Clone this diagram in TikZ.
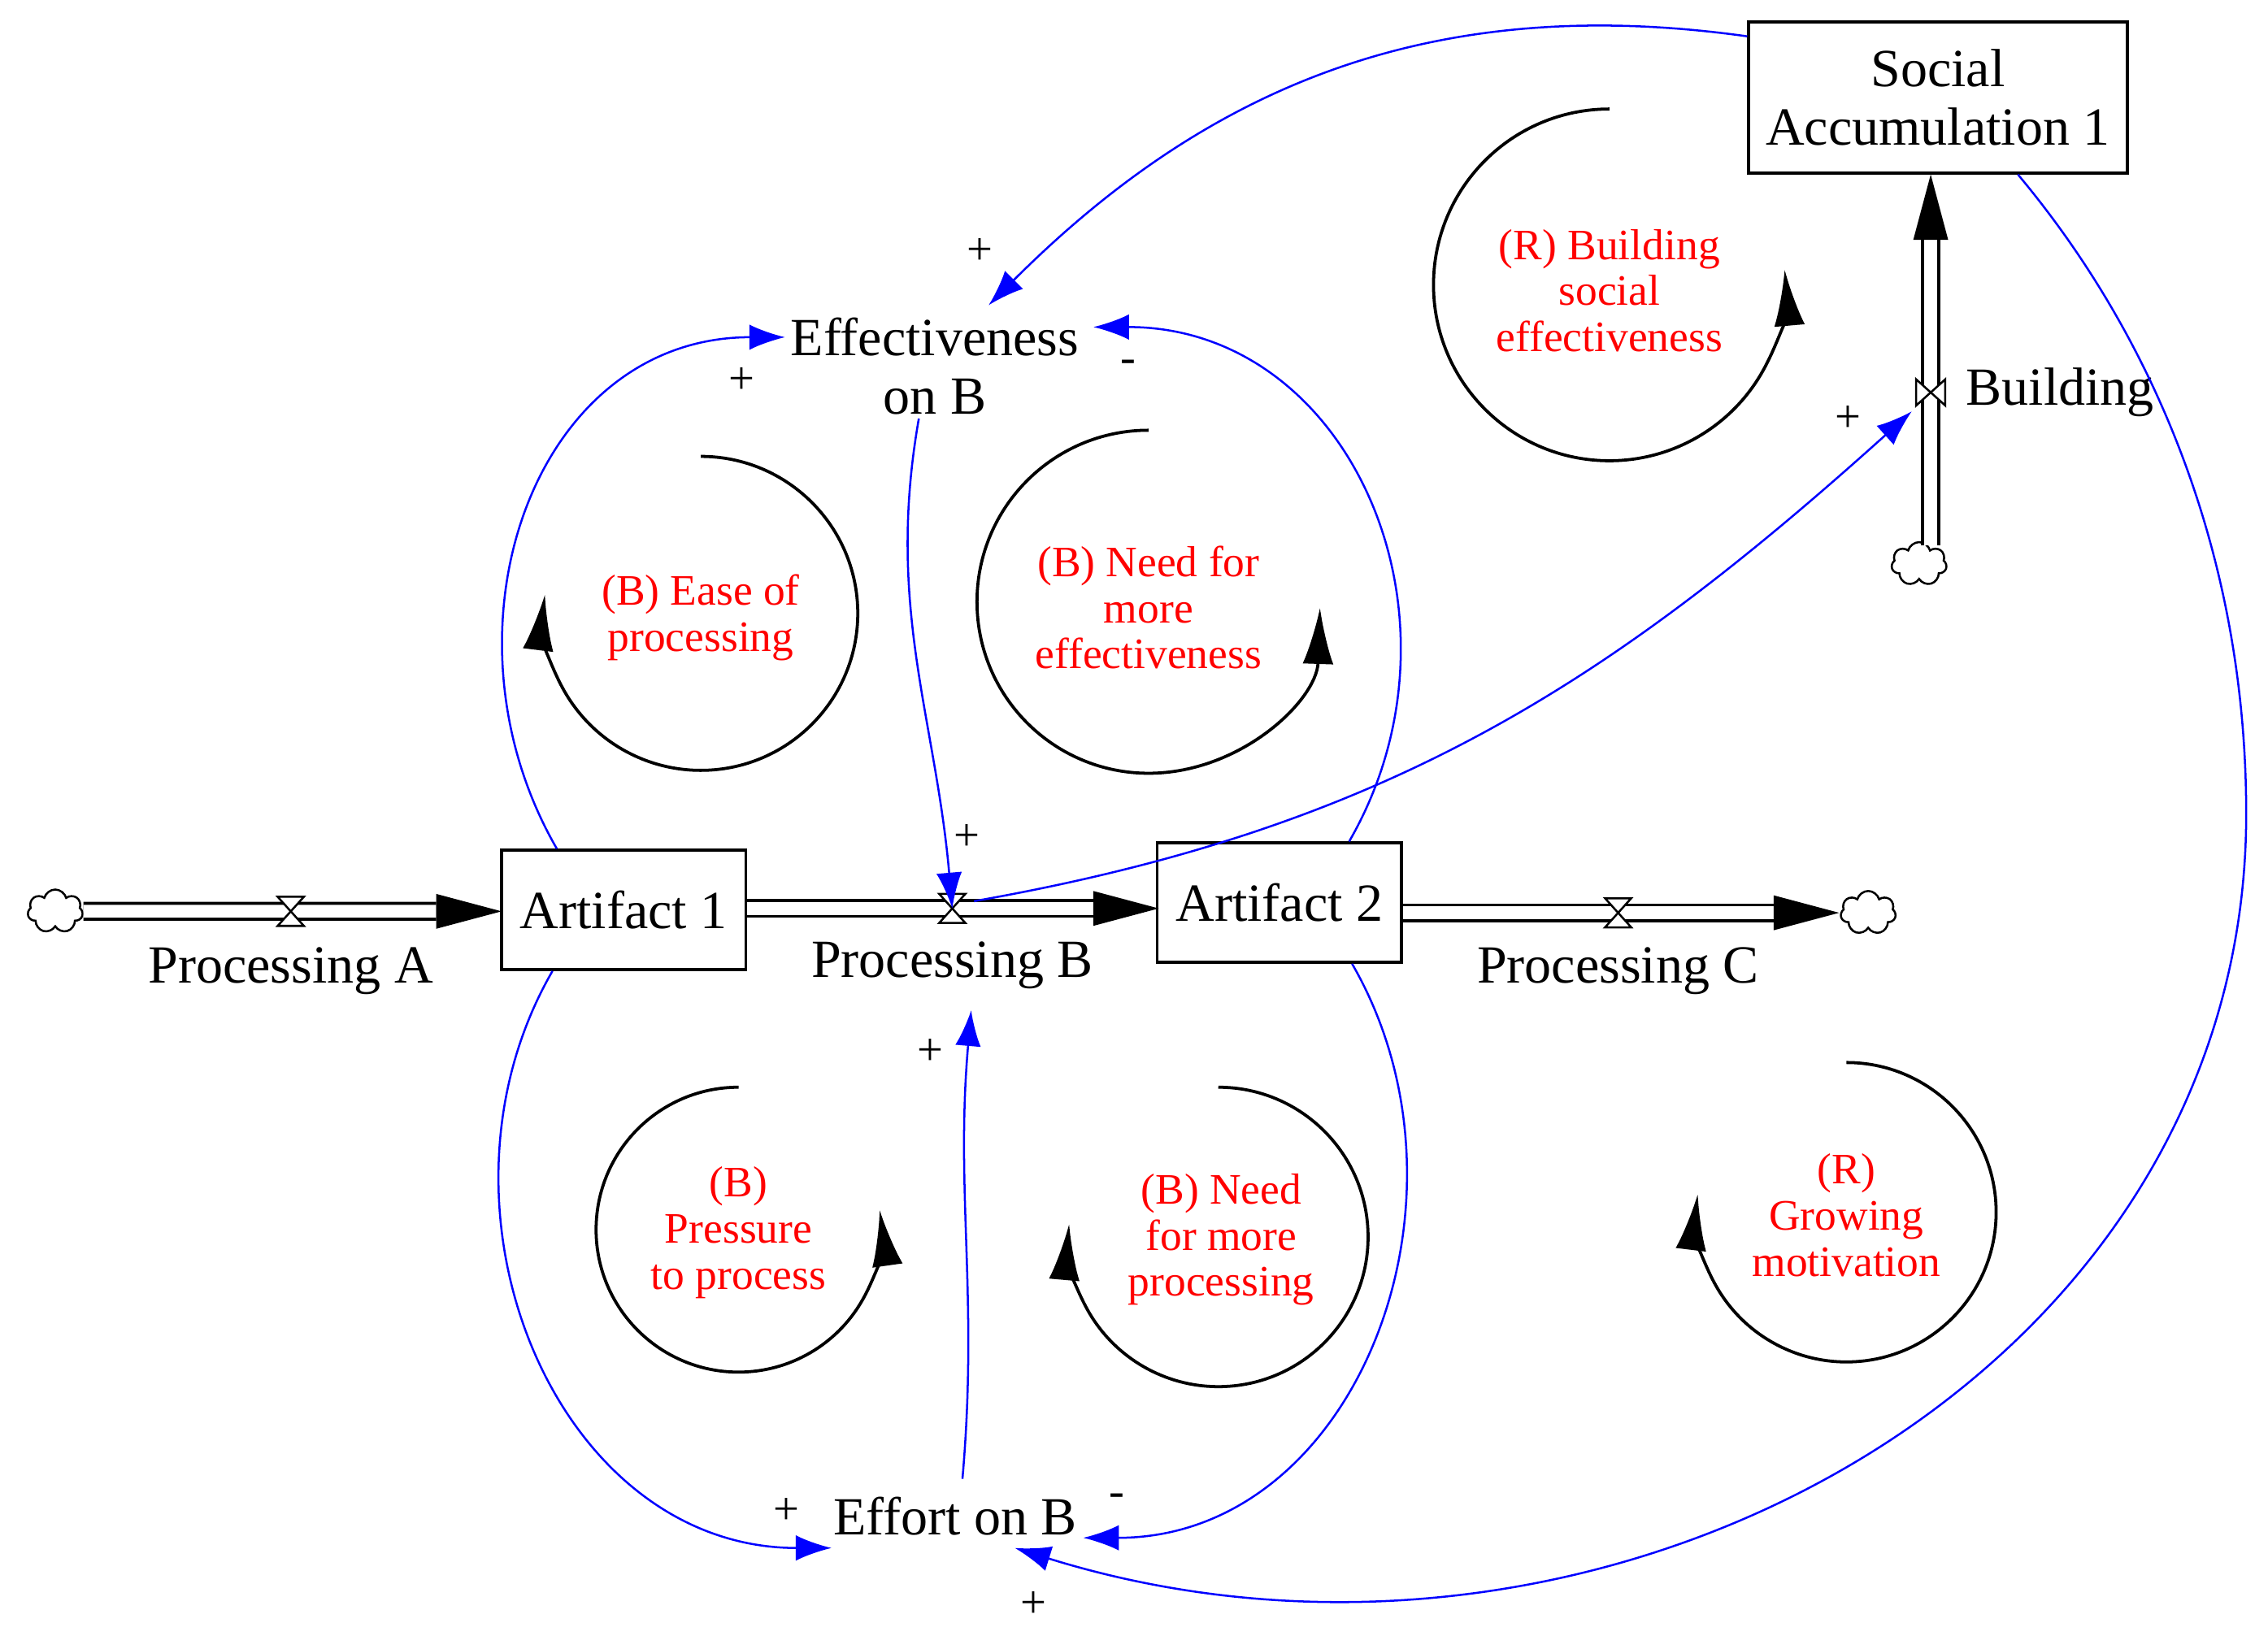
\documentclass[tikz,border=0pt]{standalone}
\usepackage{fontspec}
\setmainfont{Liberation Serif}
\usetikzlibrary{arrows.meta,shapes.symbols}
\tikzset{
	stock/.style={draw, semithick, minimum width=1.68cm, minimum height=0.82cm, font=\fontsize{10.5}{11.5}\selectfont, align=center},
	lbl/.style={font=\fontsize{10.5}{11.5}\selectfont, align=center},
	loopname/.style={text=red, font=\fontsize{8.5}{9}\selectfont, align=center},
	sign/.style={font=\fontsize{9}{9}\selectfont},
	link/.style={blue, -{Latex[length=7pt,width=5pt]}},
	loop/.style={semithick, -{Latex[length=11pt,width=6pt]}},
	cloudy/.style={cloud, draw, cloud puffs=7, minimum width=0.38cm, minimum height=0.3cm, inner sep=0pt},
	pipe/.style={double, double distance=2.5pt, semithick}
}
\newcommand{\valveH}[1]{\draw[fill=white] ($(#1)+(-9,10)$) -- ($(#1)+(9,10)$) -- ($(#1)+(-9,-10)$) -- ($(#1)+(9,-10)$) -- cycle;}
\newcommand{\valveV}[1]{\draw[fill=white] ($(#1)+(-10,9)$) -- ($(#1)+(-10,-9)$) -- ($(#1)+(10,9)$) -- ($(#1)+(10,-9)$) -- cycle;}
\usetikzlibrary{calc}
\begin{document}
\begin{tikzpicture}[x=0.01cm, y=0.01cm]
	\useasboundingbox (0,0) rectangle (1560,-1134);
	% stocks
	\node[stock, minimum width=2.52cm, minimum height=1.04cm] (social) at (1333,-67) {Social\\Accumulation 1};
	\node[stock] (art1) at (429,-626) {Artifact 1};
	\node[stock] (art2) at (880,-621) {Artifact 2};
	% clouds
	\node[cloudy] (srcA) at (38,-627) {};
	\node[cloudy] (sinkC) at (1285,-628) {};
	\node[cloudy] (srcS) at (1320,-388) {};
	% valves
	\coordinate (vA) at (200,-627);
	\coordinate (vB) at (655,-625);
	\coordinate (vC) at (1113,-628);
	\coordinate (vS) at (1328,-270);
	\coordinate (bend) at (1545,-560);
	% pipes
	\draw[pipe] (srcA.east) -- (300,-627);
	\fill (300,-615) -- (345,-627) -- (300,-639) -- cycle;
	\draw[pipe] (art1.east |- 0,-625) -- (752,-625);
	\fill (752,-613) -- (797,-625) -- (752,-637) -- cycle;
	\draw[pipe] (art2.east |- 0,-628) -- (1220,-628);
	\fill (1220,-616) -- (1265,-628) -- (1220,-640) -- cycle;
	\draw[pipe] (1328,-375) -- (1328,-165);
	\fill (1316,-165) -- (1328,-120) -- (1340,-165) -- cycle;
	\valveH{vA}
	\valveH{vB}
	\valveH{vC}
	\valveV{vS}
	% flow names
	\node[lbl] (pA) at (200,-668) {Processing A};
	\node[lbl] (pB) at (655,-664) {Processing B};
	\node[lbl] (pC) at (1113,-668) {Processing C};
	\node[lbl, anchor=west] (bld) at (1340,-270) {Building};
	% auxiliaries
	\node[lbl] (eff) at (643,-252) {Effectiveness\\on B};
	\node[lbl] (effort) at (657,-1043) {Effort on B};
	% links
	\draw[link] (social.west |- 0,-25) to[out=172, in=45] (680,-210);
	\draw[link] (art1.north -| 383,0) to[out=120, in=180, looseness=1.15] (540,-232);
	\draw[link] (art2.north -| 928,0) to[out=60, in=0, looseness=1.15] (752,-225);
	\draw[link] (632,-288) to[out=-100, in=95] (vB);
	\draw[link] (670,-620) to[out=10, in=222] (1315,-283);
	\draw[link] (art1.south -| 380,0) to[out=-120, in=180, looseness=1.1] (572,-1065);
	\draw[link] (art2.south -| 930,0) to[out=-60, in=0, looseness=1.1] (745,-1058);
	\draw[link] (effort.north -| 662,0) to[out=85, in=-95] (668,-695);
	\draw[link] (social.south -| 1388,0) .. controls (1480,-230) and (1545,-380) .. (bend)
		.. controls (1545,-950) and (1100,-1190) .. (698,-1065);
	% signs
	\node[sign] (s1) at (674,-173) {+};
	\node[sign] (s2) at (510,-262) {+};
	\node[sign] (s3) at (776,-252) {-};
	\node[sign] (s4) at (665,-576) {+};
	\node[sign] (s5) at (1271,-288) {+};
	\node[sign] (s6) at (541,-1040) {+};
	\node[sign] (s7) at (768,-1032) {-};
	\node[sign] (s8) at (640,-724) {+};
	\node[sign] (s9) at (711,-1104) {+};
	% loops
	\draw[loop] (482,-314) arc[start angle=90, end angle=-187, radius=108];
	\node[loopname] (l1) at (482,-425) {(B) Ease of\\processing};
	\draw[loop] (790,-296) arc[start angle=90, end angle=358, radius=118];
	\node[loopname] (l2) at (790,-418) {(B) Need for\\more\\effectiveness};
	\draw[loop] (1107,-75) arc[start angle=90, end angle=365, radius=121];
	\node[loopname] (l3) at (1107,-200) {(R) Building\\social\\effectiveness};
	\draw[loop] (508,-748) arc[start angle=90, end angle=368, radius=98];
	\node[loopname] (l4) at (508,-848) {(B)\\Pressure\\to process};
	\draw[loop] (838,-748) arc[start angle=90, end angle=-185, radius=103];
	\node[loopname] (l5) at (840,-853) {(B) Need\\for more\\processing};
	\draw[loop] (1270,-731) arc[start angle=90, end angle=-187, radius=103];
	\node[loopname] (l6) at (1270,-836) {(R)\\Growing\\motivation};
\end{tikzpicture}
\end{document}
